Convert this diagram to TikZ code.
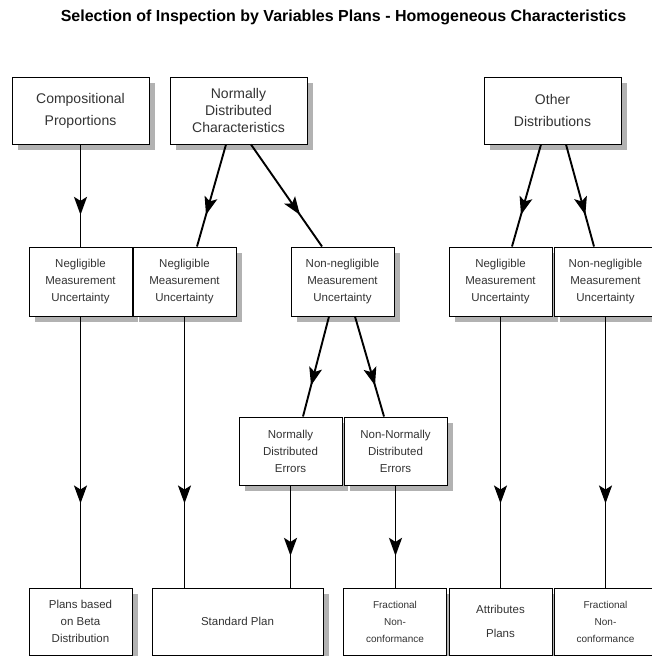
\documentclass[tikz,border=0pt]{standalone}
\usepackage{fontspec}
\setmainfont{Liberation Sans}
\usetikzlibrary{arrows.meta,decorations.markings,shadows}

\begin{document}
\begin{tikzpicture}[
    x=1pt, y=-1pt,
    box/.style={draw, line width=1pt, fill=white, align=center, text=black!80, inner sep=0pt,
        drop shadow={shadow xshift=5.5pt, shadow yshift=-5.5pt, fill=black!30, opacity=1}},
    topbox/.style={box, minimum width=137pt, minimum height=67pt, font=\fontsize{14}{22}\selectfont},
    midbox/.style={box, minimum width=103pt, minimum height=69pt, font=\fontsize{11.5}{17}\selectfont},
    endbox/.style={box, minimum width=103pt, minimum height=67pt, font=\fontsize{11.5}{17}\selectfont},
    smallbox/.style={endbox, font=\fontsize{10}{17}\selectfont},
    flow/.style={line width=1.9pt, postaction={decorate},
        decoration={markings, mark=at position 0.69 with {\arrow{Stealth[length=18pt,width=13pt,inset=4pt]}}}}
]
\useasboundingbox (0,0) rectangle (651,656);

\node[font=\bfseries\fontsize{16}{18}\selectfont] (title) at (343.5,17)
    {Selection of Inspection by Variables Plans - Homogeneous Characteristics};

% first level
\node[topbox] (comp) at (80.5,110.5) {Compositional\\Proportions};
\node[topbox, font=\fontsize{14}{17}\selectfont] (normal) at (238.5,110.5) {Normally\\Distributed\\Characteristics};
\node[topbox] (other) at (552.5,110.5) {Other\\Distributions};

% measurement uncertainty
\node[midbox] (neglA) at (80.5,281.5) {Negligible\\Measurement\\Uncertainty};
\node[midbox] (neglB) at (184.5,281.5) {Negligible\\Measurement\\Uncertainty};
\node[midbox] (nonneglC) at (342.5,281.5) {Non-negligible\\Measurement\\Uncertainty};
\node[midbox] (neglD) at (500.5,281.5) {Negligible\\Measurement\\Uncertainty};
\node[midbox] (nonneglE) at (605.5,281.5) {Non-negligible\\Measurement\\Uncertainty};

% errors
\node[midbox, minimum height=68pt] (normerr) at (290.5,451) {Normally\\Distributed\\Errors};
\node[midbox, minimum height=68pt] (nonnormerr) at (395.5,451) {Non-Normally\\Distributed\\Errors};

% plans
\node[endbox] (beta) at (80.5,621.5) {Plans based\\on Beta\\Distribution};
\node[endbox, minimum width=171pt] (standard) at (237.5,621.5) {Standard Plan};
\node[smallbox] (fracA) at (395,621.5) {Fractional\\Non-\\conformance};
\node[endbox, font=\fontsize{11.5}{24}\selectfont] (attr) at (500.5,621.5) {Attributes\\Plans};
\node[smallbox] (fracB) at (605.5,621.5) {Fractional\\Non-\\conformance};

\draw[flow] (comp) -- (neglA);
\draw[flow] ([xshift=-12.5pt]normal.south) -- ([xshift=12.5pt]neglB.north);
\draw[flow] ([xshift=12.5pt]normal.south) -- ([xshift=-20.5pt]nonneglC.north);
\draw[flow] ([xshift=-11.5pt]other.south) -- ([xshift=11.5pt]neglD.north);
\draw[flow] ([xshift=13.5pt]other.south) -- ([xshift=-11.5pt]nonneglE.north);
\draw[flow] ([xshift=-13.5pt]nonneglC.south) -- ([xshift=12.5pt]normerr.north);
\draw[flow] ([xshift=12.5pt]nonneglC.south) -- ([xshift=-11.5pt]nonnormerr.north);

\draw[flow] (neglA) -- (beta);
\draw[flow] (neglB.south) -- (neglB.south |- standard.north);
\draw[flow] (normerr.south) -- (normerr.south |- standard.north);
\draw[flow] (nonnormerr.south) -- (nonnormerr.south |- fracA.north);
\draw[flow] (neglD) -- (attr);
\draw[flow] (nonneglE) -- (fracB);

\end{tikzpicture}
\end{document}
